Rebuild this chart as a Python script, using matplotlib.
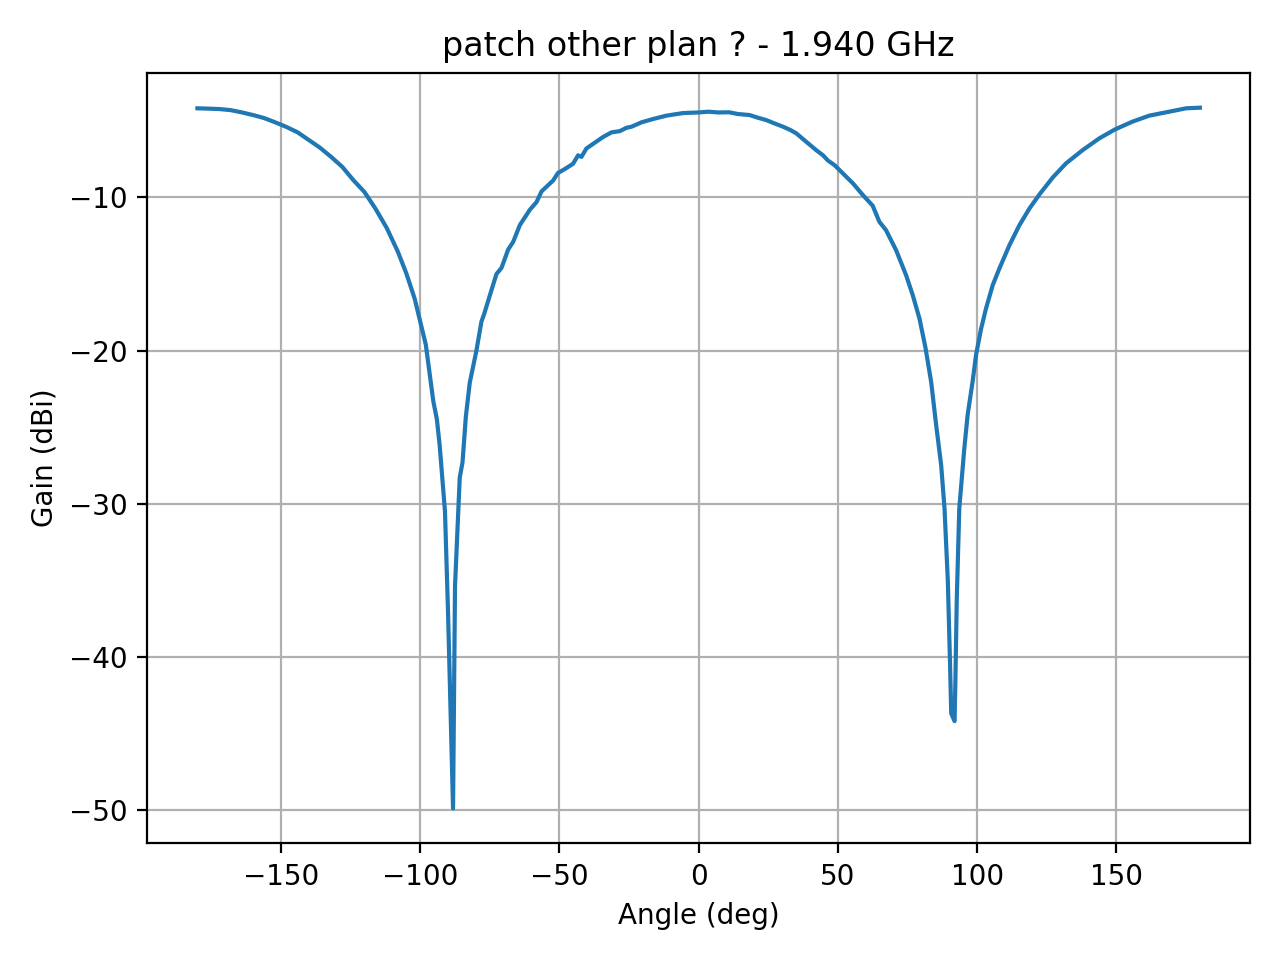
import matplotlib
matplotlib.use("Agg")
import matplotlib.pyplot as plt

# antenna cut (deg, dBi)
angles = [-180, -176, -172, -168, -164, -160, -156, -152, -148, -144, -140,
          -136, -132, -128, -124, -120, -116, -112, -108, -105, -102, -100,
          -98, -96.5, -95.3, -94, -93, -91.1, -90, -88.2, -87.5, -85.8,
          -84.8, -83.6, -82.2, -79.8, -78, -77, -75, -72.6, -70.8, -68.4,
          -66.6, -64.2, -60.6, -58.2, -56.4, -52.3, -50.5, -48.1, -45.1,
          -43.3, -42.1, -40.3, -36.7, -34.3, -31.3, -28.3, -25.9, -24.1,
          -20.6, -16.4, -11.6, -5.6, 0, 3.5, 7, 11, 14, 18.3, 21, 24.3, 27,
          30.3, 33, 35.1, 38.6, 42.2, 44.6, 46.5, 48.8, 51.8, 55.4, 59, 62.5,
          64.9, 67.3, 70.9, 74.5, 76.9, 79.3, 81.4, 83.5, 85.3, 87.1, 88.3,
          89.5, 90.3, 90.7, 91.9, 92.2, 92.7, 93.6, 95.4, 96.6, 98.4, 99.6,
          101.4, 103.2, 105.6, 108, 111.6, 115.2, 118.8, 122.4, 127.1, 131.9,
          137.9, 143.9, 149.5, 155.8, 161.8, 169, 175, 180]
gain = [-4.18, -4.20, -4.23, -4.30, -4.45, -4.62, -4.82, -5.10, -5.40, -5.75,
        -6.25, -6.75, -7.35, -8.00, -8.87, -9.65, -10.75, -12.00, -13.55,
        -14.95, -16.60, -18.10, -19.60, -21.65, -23.3, -24.5, -26.2, -30.5,
        -37.1, -49.9, -35.4, -28.3, -27.3, -24.3, -22.1, -20.0, -18.1, -17.6,
        -16.4, -15.0, -14.6, -13.4, -12.9, -11.8, -10.8, -10.3, -9.6, -8.9,
        -8.4, -8.15, -7.8, -7.25, -7.35, -6.8, -6.35, -6.05, -5.75, -5.67,
        -5.45, -5.38, -5.1, -4.88, -4.66, -4.49, -4.45, -4.40, -4.45, -4.44,
        -4.55, -4.62, -4.78, -4.95, -5.15, -5.38, -5.6, -5.82, -6.36, -6.91,
        -7.24, -7.6, -7.89, -8.43, -9.08, -9.85, -10.54, -11.59, -12.14,
        -13.44, -15.08, -16.39, -17.91, -19.76, -22.05, -24.88, -27.5, -30.33,
        -35.1, -40.6, -43.7, -44.2, -41.6, -36.2, -30.3, -26.4, -24.2, -22.0,
        -20.3, -18.6, -17.25, -15.73, -14.64, -13.12, -11.81, -10.72, -9.8,
        -8.71, -7.78, -6.91, -6.14, -5.56, -5.05, -4.66, -4.4, -4.18, -4.14]

fig, ax = plt.subplots(figsize=(6.4, 4.8), dpi=200)
ax.plot(angles, gain)
ax.set_title("patch other plan ? - 1.940 GHz")
ax.set_xlabel("Angle (deg)")
ax.set_ylabel("Gain (dBi)")
ax.grid(True)
plt.tight_layout()
plt.savefig("out.png")
